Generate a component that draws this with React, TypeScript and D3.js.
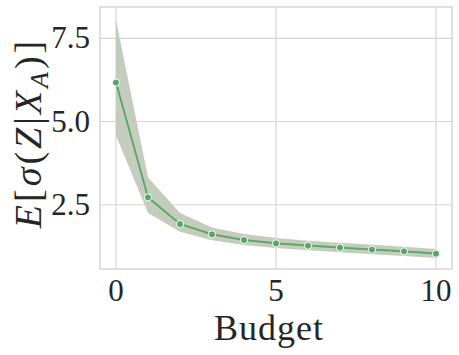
import React, { useEffect, useRef } from "react";
import * as d3 from "d3";

const budget = [0, 1, 2, 3, 4, 5, 6, 7, 8, 9, 10];
const meanSigma = [6.17, 2.72, 1.92, 1.61, 1.44, 1.34, 1.27, 1.21, 1.15, 1.1, 1.03];
const upperSigma = [8.05, 3.32, 2.25, 1.82, 1.62, 1.5, 1.42, 1.36, 1.3, 1.24, 1.17];
const lowerSigma = [4.58, 2.25, 1.69, 1.43, 1.29, 1.2, 1.13, 1.07, 1.01, 0.96, 0.9];
const orangeSigma = [6.19, 2.74, 1.94, 1.63, 1.46, 1.36, 1.29, 1.23, 1.17, 1.12, 1.05];
const xTicks = [0, 5, 10];
const yTicks = [2.5, 5.0, 7.5];

export default function App() {
  const ref = useRef<SVGSVGElement>(null);

  useEffect(() => {
    const svg = d3.select(ref.current);
    svg.selectAll("*").remove();

    const width = 459;
    const height = 355;
    const margin = { top: 7, left: 100, bottom: 86, right: 7 };
    const iwidth = width - margin.left - margin.right;
    const iheight = height - margin.top - margin.bottom;

    const x = d3.scaleLinear().domain([-0.5, 10.5]).range([0, iwidth]);
    const y = d3.scaleLinear().domain([0.57, 8.44]).range([iheight, 0]);

    const g = svg
      .append("g")
      .attr("transform", `translate(${margin.left},${margin.top})`);

    // grid
    g.selectAll(".xgrid")
      .data(xTicks)
      .enter()
      .append("line")
      .attr("x1", d => x(d))
      .attr("x2", d => x(d))
      .attr("y1", 0)
      .attr("y2", iheight)
      .attr("stroke", "#d5d5d5")
      .attr("stroke-width", 1.2);
    g.selectAll(".ygrid")
      .data(yTicks)
      .enter()
      .append("line")
      .attr("x1", 0)
      .attr("x2", iwidth)
      .attr("y1", d => y(d))
      .attr("y2", d => y(d))
      .attr("stroke", "#d5d5d5")
      .attr("stroke-width", 1.2);

    const rows = budget.map((b, i) => ({
      b,
      m: meanSigma[i],
      u: upperSigma[i],
      l: lowerSigma[i],
      o: orangeSigma[i]
    }));

    const area = d3
      .area<any>()
      .x(d => x(d.b))
      .y0(d => y(d.l))
      .y1(d => y(d.u));
    g.append("path")
      .datum(rows)
      .attr("d", area)
      .attr("fill", "#c4ccbd");

    g.append("path")
      .datum(rows)
      .attr("d", d3.line<any>().x(d => x(d.b)).y(d => y(d.o)))
      .attr("fill", "none")
      .attr("stroke", "#dd8452")
      .attr("stroke-width", 1)
      .attr("stroke-opacity", 0.7);

    g.append("path")
      .datum(rows)
      .attr("d", d3.line<any>().x(d => x(d.b)).y(d => y(d.m)))
      .attr("fill", "none")
      .attr("stroke", "#55a868")
      .attr("stroke-width", 1.8);

    g.selectAll(".pt")
      .data(rows)
      .enter()
      .append("circle")
      .attr("cx", d => x(d.b))
      .attr("cy", d => y(d.m))
      .attr("r", 3.6)
      .attr("fill", "#55a868")
      .attr("stroke", "white")
      .attr("stroke-width", 1);

    // frame
    g.append("rect")
      .attr("width", iwidth)
      .attr("height", iheight)
      .attr("fill", "none")
      .attr("stroke", "#d5d5d5")
      .attr("stroke-width", 1.5);

    const font = "'Liberation Serif', 'DejaVu Serif', serif";

    g.selectAll(".xt")
      .data(xTicks)
      .enter()
      .append("text")
      .attr("x", d => x(d))
      .attr("y", iheight + 32)
      .attr("text-anchor", "middle")
      .attr("font-family", font)
      .attr("font-size", 31)
      .attr("fill", "#262626")
      .text(d => d3.format("d")(d));

    g.selectAll(".yt")
      .data(yTicks)
      .enter()
      .append("text")
      .attr("x", -10)
      .attr("y", d => y(d) + 10)
      .attr("text-anchor", "end")
      .attr("font-family", font)
      .attr("font-size", 31)
      .attr("fill", "#262626")
      .text(d => d3.format(".1f")(d));

    g.append("text")
      .attr("x", iwidth / 2 - 7)
      .attr("y", iheight + 71)
      .attr("text-anchor", "middle")
      .attr("font-family", font)
      .attr("font-size", 36)
      .attr("letter-spacing", 1)
      .attr("fill", "#262626")
      .text("Budget");

    const yl = svg
      .append("text")
      .attr("transform", `translate(41,${133}) rotate(-90)`)
      .attr("text-anchor", "middle")
      .attr("font-family", font)
      .attr("font-size", 38)
      .attr("letter-spacing", 3)
      .attr("fill", "#262626");
    const parts: [string, boolean, boolean][] = [
      ["E", true, false],
      ["[", false, false],
      ["σ", true, false],
      ["(", false, false],
      ["Z", true, false],
      ["|", false, false],
      ["X", true, false],
      ["A", true, true],
      [")", false, false],
      ["]", false, false]
    ];
    parts.forEach(([t, it, sub], i) => {
      const prevSub = i > 0 && parts[i - 1][2];
      yl.append("tspan")
        .attr("font-style", it ? "italic" : "normal")
        .attr("font-size", sub ? 26 : 38)
        .attr("dy", sub ? 7 : prevSub ? -7 : 0)
        .text(t);
    });
  }, []);

  return (
    <svg
      ref={ref}
      width={459}
      height={355}
      style={{ display: "block", position: "absolute", left: 0, top: 0 }}
    ></svg>
  );
}
